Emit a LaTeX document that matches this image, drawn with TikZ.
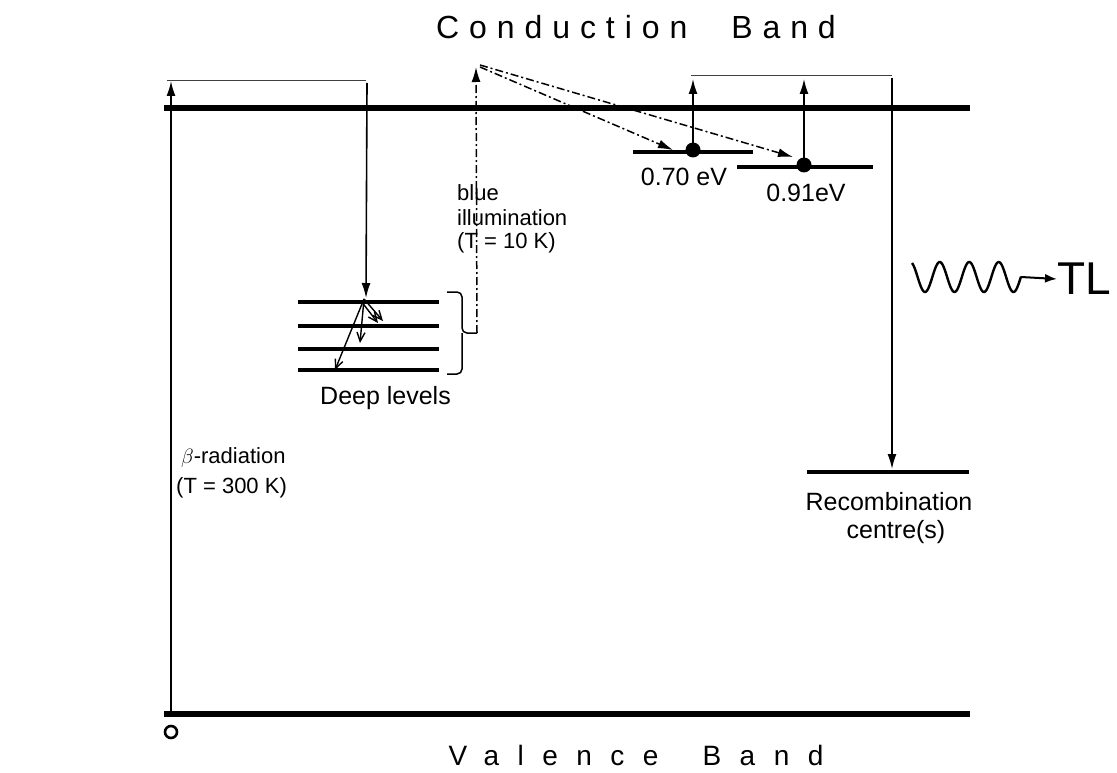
\documentclass[tikz,border=0pt]{standalone}
\usepackage{fontspec}
\setmainfont{Liberation Sans}
\newfontfamily\cbfont[LetterSpace=31]{Liberation Sans}
\newfontfamily\vbfont[LetterSpace=66]{Liberation Sans}
\usetikzlibrary{arrows.meta}
\begin{document}
\begin{tikzpicture}[x=1pt,y=-1pt,
  band/.style={line width=6pt},
  level/.style={line width=4pt},
  deep/.style={line width=3.5pt},
  conn/.style={line width=1.6pt},
  thinline/.style={line width=1.1pt, black!75},
  arr/.style={conn, -{Latex[length=15pt,width=9pt]}},
  barb/.style={line width=1.4pt, -{Straight Barb[length=9pt,width=8pt]}},
  dd/.style={line width=1.5pt, dash pattern=on 8pt off 3pt on 2pt off 3pt},
  ddarr/.style={dd, -{Latex[length=15pt,width=9pt]}},
  lbl/.style={inner sep=0pt, font=\fontsize{25}{30}\selectfont},
  slbl/.style={inner sep=0pt, font=\fontsize{22}{26}\selectfont},
  dot/.style={circle, fill=black, inner sep=0pt, minimum size=15pt}
]
\useasboundingbox (0,0) rectangle (1117,773);

% bands
\coordinate (cbL) at (164,108); \coordinate (cbR) at (970,108);
\coordinate (vbL) at (164,714); \coordinate (vbR) at (970,714);
\draw[band] (cbL) -- (cbR);
\draw[band] (vbL) -- (vbR);
\node[inner sep=0pt, font=\cbfont\fontsize{32}{36}\selectfont] (cbt) at (636,27) {Conduction\hspace{44pt}Band};
\node[inner sep=0pt, font=\vbfont\fontsize{28}{32}\selectfont] (vbt) at (636,755) {Valence\hspace{44pt}Band};

% hole
\node[circle, draw, line width=2.6pt, minimum size=12pt, inner sep=0pt] (hole) at (171,732) {};

% beta excitation
\coordinate (b0) at (171,711); \coordinate (b1) at (171,81);
\draw[arr] (b0) -- (b1);
\coordinate (t0) at (167,80.5); \coordinate (t1) at (366,80.5);
\draw[thinline] (t0) -- (t1);
\coordinate (d0) at (367,83); \coordinate (d1) at (366,298);
\draw[arr] (d0) -- (d1);
\node[slbl, anchor=west] (beta) at (181,458) {$\beta$-radiation};
\node[slbl, anchor=west] (t300) at (176,488) {(T = 300 K)};

% deep levels
\foreach \y/\n in {302/1,326/2,349/3,370/4} {
  \coordinate (dl\n L) at (298,\y); \coordinate (dl\n R) at (439,\y);
  \draw[deep] (dl\n L) -- (dl\n R);
}
\coordinate (ds) at (364,299);
\coordinate (ds2) at (361,301);
\coordinate (e1) at (383,321); \coordinate (e1b) at (378,323);
\coordinate (e2) at (360,343); \coordinate (e3) at (335,370);
\draw[barb] (ds) -- (e1);
\draw[barb] (ds2) -- (e1b);
\draw[barb] (ds) -- (e2);
\draw[barb] (ds) -- (e3);
\node[lbl, anchor=west] (deeplbl) at (320,398) {Deep levels};

% brace
\coordinate (brT) at (447,292); \coordinate (brB) at (447,374);
\coordinate (brM) at (477,333);
\draw[line width=1.5pt, rounded corners=5pt] (brT) -- (462,292) -- (462,333) -- (brM);
\draw[line width=1.5pt, rounded corners=5pt] (brB) -- (462,374) -- (462,333);

% blue illumination
\coordinate (bl1) at (476,67);
\draw[ddarr] (brM) -- (bl1);
\coordinate (bs) at (480,65); \coordinate (bs2) at (480,67);
\coordinate (a70) at (673,150); \coordinate (a91) at (793,157);
\draw[ddarr] (bs2) -- (a70);
\draw[ddarr] (bs) -- (a91);
\node[slbl, anchor=west] (blue) at (457,193) {blue};
\node[slbl, anchor=west] (illu) at (457,218) {illumination};
\node[slbl, anchor=west] (t10) at (457,243) {(T = 10 K)};

% trap levels
\coordinate (l70L) at (633,152); \coordinate (l70R) at (753,152);
\coordinate (l91L) at (737,167); \coordinate (l91R) at (873,167);
\draw[level] (l70L) -- (l70R);
\draw[level] (l91L) -- (l91R);
\node[dot] (dot70) at (693,150) {};
\node[dot] (dot91) at (804,165) {};
\node[lbl] (e70) at (684,177) {0.70 eV};
\node[lbl] (e91) at (806,193) {0.91eV};
\coordinate (u70) at (693,79); \coordinate (u91) at (804,79);
\draw[arr] (dot70.center) -- (u70);
\draw[arr] (dot91.center) -- (u91);
\coordinate (r0) at (691,75.5); \coordinate (r1) at (892,75.5);
\draw[thinline] (r0) -- (r1);
\coordinate (r2) at (892,78); \coordinate (r3) at (892,469);
\draw[arr] (r2) -- (r3);

% recombination centre
\coordinate (rcL) at (807,472); \coordinate (rcR) at (969,472);
\draw[level] (rcL) -- (rcR);
\node[lbl] (rec1) at (889,502) {Recombination};
\node[lbl] (rec2) at (896,532) {centre(s)};

% TL emission
\coordinate (w1) at (1021,277);
\draw[line width=2.4pt] plot[domain=0:109, samples=150, smooth] ({\x+912}, {277+15*sin(12.2034*(\x-5.6))});
\node[inner sep=0pt, anchor=west, font=\fontsize{46}{50}\selectfont] (tl) at (1057,279) {TL};
\draw[line width=2pt, -{Latex[length=12pt,width=9pt]}] (w1) -- (tl.west);
\end{tikzpicture}
\end{document}
